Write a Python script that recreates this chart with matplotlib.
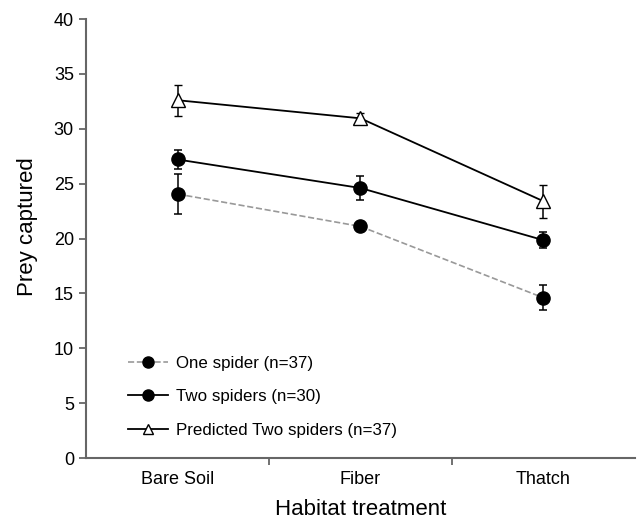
import matplotlib.pyplot as plt
from matplotlib.lines import Line2D
import numpy as np

plt.rcParams['font.family'] = ['Liberation Sans', 'DejaVu Sans']

habitats = ['Bare Soil', 'Fiber', 'Thatch']
one_spider = [24.05, 21.1, 14.6]
one_spider_err = [1.8, 0.4, 1.15]
two_spiders = [27.2, 24.6, 19.85]
two_spiders_err = [0.85, 1.05, 0.7]
predicted = [32.6, 30.95, 23.4]
predicted_err = [1.4, 0.5, 1.5]
labels = ['One spider (n=37)', 'Two spiders (n=30)', 'Predicted Two spiders (n=37)']

x = np.arange(len(habitats))

fig = plt.figure(figsize=(6.38, 5.22), dpi=100)
ax = fig.add_axes([0.135, 0.1226, 0.86, 0.841])

eb = dict(capsize=3, elinewidth=1.1, capthick=1.1, ecolor='black')
ax.errorbar(x, one_spider, yerr=one_spider_err, color='#999999', ls='--', lw=1.2,
            marker='o', ms=9.5, mfc='black', mec='black', **eb)
ax.errorbar(x, two_spiders, yerr=two_spiders_err, color='black', ls='-', lw=1.3,
            marker='o', ms=9.5, mfc='black', mec='black', **eb)
ax.errorbar(x, predicted, yerr=predicted_err, color='black', ls='-', lw=1.3,
            marker='^', ms=10, mfc='white', mec='black', mew=1.0, **eb)

ax.set_xlim(-0.5, 2.5)
ax.set_ylim(0, 40)
ax.set_yticks(range(0, 41, 5))
ax.set_xticks([0.5, 1.5])
ax.set_xticklabels([])
# category names sit between the ticks
for i, h in enumerate(habitats):
    ax.text(i, -1.2, h, ha='center', va='top', fontsize=13)
ax.set_xlabel('Habitat treatment', fontsize=16)
ax.set_ylabel('Prey captured', fontsize=16)
ax.xaxis.set_label_coords(0.5, -0.094)
ax.yaxis.set_label_coords(-0.088, 0.526)

for s in ['top', 'right']:
    ax.spines[s].set_visible(False)
for s in ['left', 'bottom']:
    ax.spines[s].set_color('#666666')
    ax.spines[s].set_linewidth(1.5)
ax.tick_params(axis='both', colors='#666666', length=4.8, width=1.3, labelsize=13,
               labelcolor='black', pad=4)

handles = [
    Line2D([], [], color='#999999', ls='--', lw=1.2, marker='o', ms=8, mfc='black', mec='black'),
    Line2D([], [], color='black', ls='-', lw=1.3, marker='o', ms=8, mfc='black', mec='black'),
    Line2D([], [], color='black', ls='-', lw=1.3, marker='^', ms=7.5, mfc='white', mec='black'),
]
ax.legend(handles, labels, loc='lower left', bbox_to_anchor=(0.076, 0.046), frameon=False,
          fontsize=12.2, handlelength=2.36, labelspacing=1.09, handletextpad=0.5,
          borderpad=0, borderaxespad=0)

fig.savefig('out.png', dpi=100)
